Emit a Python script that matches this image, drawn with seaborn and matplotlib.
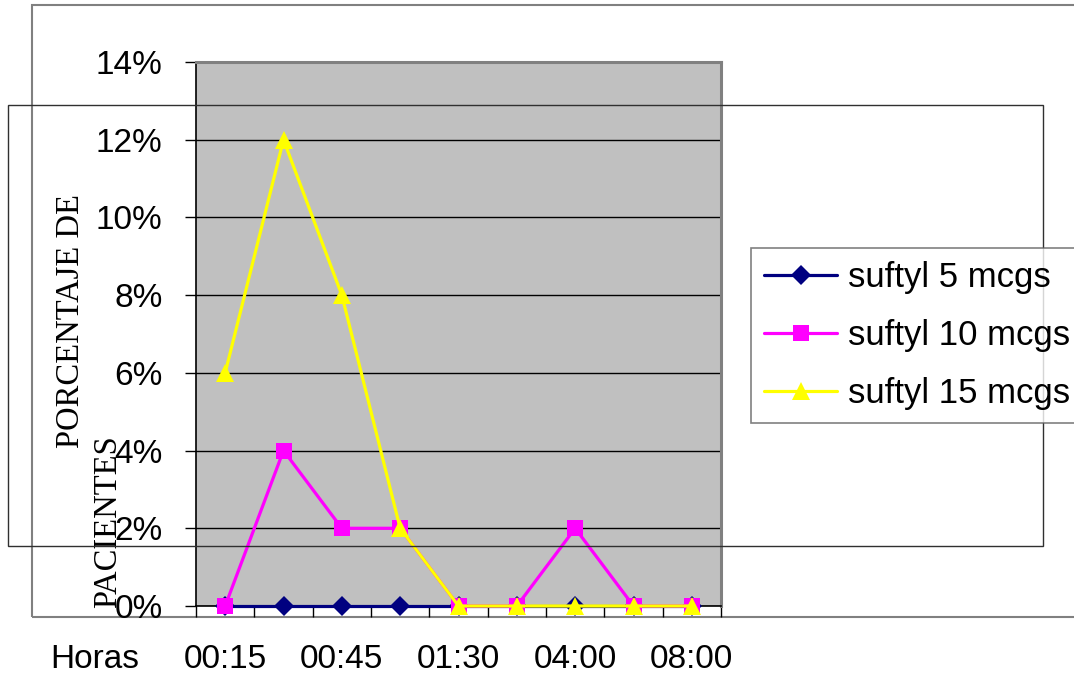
import matplotlib
matplotlib.use("Agg")
import matplotlib.pyplot as plt
from matplotlib.patches import Rectangle
from matplotlib.lines import Line2D
from matplotlib.ticker import FixedLocator, FuncFormatter
import seaborn as sns
import pandas as pd

# Time points after administration
horas = ["00:15", "00:30", "00:45", "01:00", "01:30", "02:00", "04:00", "06:00", "08:00"]
# Only every other time point is labelled on the axis
etiquetas = ["00:15", "", "00:45", "", "01:30", "", "04:00", "", "08:00"]

# Percentage of patients per dose group
suftyl_5 = [0, 0, 0, 0, 0, 0, 0, 0, 0]
suftyl_10 = [0, 4, 2, 2, 0, 0, 2, 0, 0]
suftyl_15 = [6, 12, 8, 2, 0, 0, 0, 0, 0]

series = ["suftyl 5 mcgs", "suftyl 10 mcgs", "suftyl 15 mcgs"]
colores = ["#000080", "#FF00FF", "#FFFF00"]
marcadores = ["D", "s", "^"]
tam_marcador = [10.5, 11.5, 13.5]

df = pd.DataFrame({
    "hora": horas * 3,
    "pct": suftyl_5 + suftyl_10 + suftyl_15,
    "serie": [series[0]] * 9 + [series[1]] * 9 + [series[2]] * 9,
})

sns.set_theme(style="white")
plt.rcParams["font.family"] = ["Liberation Sans", "DejaVu Sans"]
plt.rcParams["text.color"] = "black"
plt.rcParams["xtick.color"] = "black"
plt.rcParams["ytick.color"] = "black"

W, H = 1074, 676
fig = plt.figure(figsize=(W / 100, H / 100), dpi=100)
fig.patch.set_facecolor("white")

ax = fig.add_axes([196 / W, (H - 606) / H, 525 / W, 544 / H])
ax.set_facecolor("#C0C0C0")

for i, (nombre, col, mk, ms) in enumerate(zip(series, colores, marcadores, tam_marcador)):
    sub = df[df["serie"] == nombre]
    sns.lineplot(data=sub, x="hora", y="pct", ax=ax, color=col, marker=mk,
                 markersize=ms, markeredgewidth=0, linewidth=2.3, sort=False,
                 legend=False, zorder=3 + i, clip_on=False)

ax.set_xlim(-0.5, len(horas) - 0.5)
ax.set_ylim(0, 14)
ax.yaxis.set_major_locator(FixedLocator([0, 2, 4, 6, 8, 10, 12, 14]))
ax.yaxis.set_major_formatter(FuncFormatter(lambda v, p: f"{v:.0f}%"))
ax.grid(axis="y", color="black", linewidth=1.0)
ax.grid(axis="x", visible=False)

ax.set_xticks(range(len(horas)))
ax.set_xticklabels(etiquetas)
ax.set_xticks([i - 0.5 for i in range(len(horas) + 1)], minor=True)
ax.tick_params(axis="x", which="major", length=0, pad=27, labelsize=24, colors="black")
ax.tick_params(axis="x", which="minor", length=8, width=1, direction="out", color="black", bottom=True)
ax.tick_params(axis="y", which="major", length=8, width=1, direction="out", color="black",
               pad=16, labelsize=24, left=True)

ax.set_xlabel("")
ax.set_ylabel("")
for s in ["left", "bottom"]:
    ax.spines[s].set_color("black")
    ax.spines[s].set_linewidth(1.2)
for s in ["top", "right"]:
    ax.spines[s].set_color("#808080")
    ax.spines[s].set_linewidth(2.2)

# Axis captions
fig.text(71 / W, 1 - 321 / H, "PORCENTAJE DE", rotation=90, ha="center", va="center",
         fontsize=23.5, family=["Liberation Serif", "DejaVu Serif"], color="black")
fig.text(108 / W, 1 - 522 / H, "PACIENTES", rotation=90, ha="center", va="center",
         fontsize=23.5, family=["Liberation Serif", "DejaVu Serif"], color="black")
fig.text(95 / W, 1 - 659 / H, "Horas", ha="center", va="center", fontsize=24, color="black")

# Frames around the chart
fig.add_artist(Rectangle((32 / W, 1 - 617 / H), (1100 - 32) / W, (617 - 5) / H,
                         transform=fig.transFigure, fill=False, edgecolor="#808080",
                         linewidth=1.5, zorder=0))
fig.add_artist(Rectangle((8 / W, 1 - 546 / H), (1043 - 8) / W, (546 - 105) / H,
                         transform=fig.transFigure, fill=False, edgecolor="#303030",
                         linewidth=1.0, zorder=10))

# Legend
handles = [Line2D([0], [0], color=c, marker=m, markersize=ms, markeredgewidth=0, linewidth=2.3)
           for c, m, ms in zip(colores, marcadores, tam_marcador)]
leg = fig.legend(handles, series, loc="upper left", bbox_to_anchor=(751 / W, 1 - 248 / H),
                 bbox_transform=fig.transFigure, borderaxespad=0, fontsize=25,
                 frameon=True, fancybox=False, shadow=False, handlelength=2.1,
                 handletextpad=0.3, labelspacing=0.72, borderpad=0.38)
leg.get_frame().set_edgecolor("#606060")
leg.get_frame().set_linewidth(1.2)
leg.get_frame().set_facecolor("white")
leg.set_zorder(11)

fig.savefig("out.png", dpi=100)
